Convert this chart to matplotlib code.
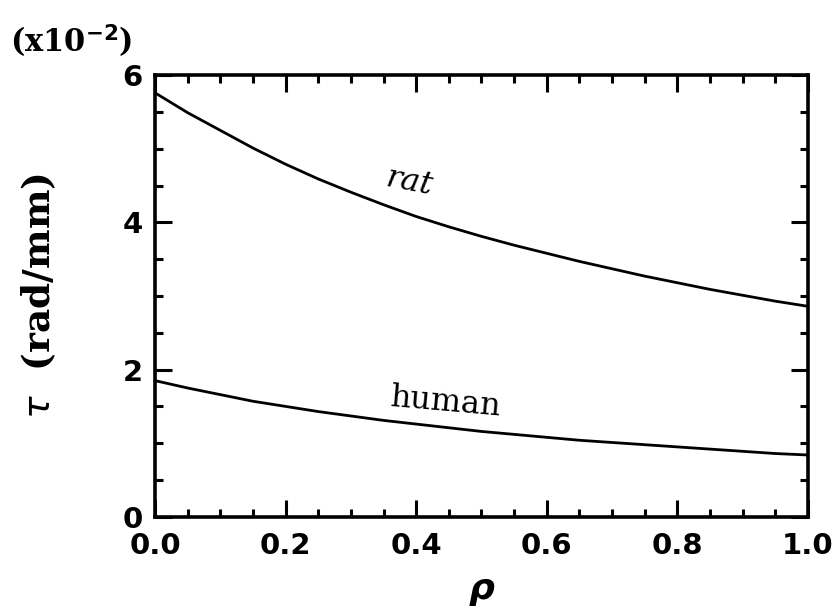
import numpy as np
import matplotlib
matplotlib.use('Agg')
import matplotlib.pyplot as plt
from matplotlib.ticker import MultipleLocator

# values (tau in units of 1e-2 rad/mm)
rho = [0.0, 0.05, 0.1, 0.15, 0.2, 0.25, 0.3, 0.35, 0.4, 0.45, 0.5,
       0.55, 0.6, 0.65, 0.7, 0.75, 0.8, 0.85, 0.9, 0.95, 1.0]
tau_rat = [5.76, 5.49, 5.25, 5.01, 4.79, 4.59, 4.41, 4.24, 4.08, 3.94, 3.81,
           3.69, 3.58, 3.47, 3.37, 3.27, 3.18, 3.09, 3.01, 2.93, 2.86]
tau_human = [1.85, 1.75, 1.66, 1.57, 1.50, 1.43, 1.37, 1.31, 1.26, 1.21, 1.16,
             1.12, 1.08, 1.04, 1.01, 0.98, 0.95, 0.92, 0.89, 0.86, 0.84]

fig = plt.figure(figsize=(8.38, 6.16), dpi=100)
ax = fig.add_axes([0.185, 0.161, 0.779, 0.717])

ax.plot(rho, tau_rat, color='black', lw=2)
ax.plot(rho, tau_human, color='black', lw=2)

ax.set_xlim(0, 1)
ax.set_ylim(0, 6)
ax.xaxis.set_minor_locator(MultipleLocator(0.05))
ax.yaxis.set_minor_locator(MultipleLocator(0.5))
ax.set_xticks([0, 0.2, 0.4, 0.6, 0.8, 1.0])
ax.set_xticklabels(['0.0', '0.2', '0.4', '0.6', '0.8', '1.0'])
ax.set_yticks([0, 2, 4, 6])
ax.set_yticklabels(['0', '2', '4', '6'])

ax.tick_params(which='both', direction='in', top=True, right=True, width=2.2)
ax.tick_params(which='major', length=12, labelsize=21)
ax.tick_params(axis='x', which='major', pad=11)
ax.tick_params(axis='y', which='major', pad=9)
ax.tick_params(which='minor', length=6)
for lab in ax.get_xticklabels() + ax.get_yticklabels():
    lab.set_fontweight('bold')
for s in ax.spines.values():
    s.set_linewidth(2.6)

ax.set_xlabel(r'$\boldsymbol{\rho}$', fontsize=26, labelpad=10)
ax.set_ylabel(r'$\tau$  (rad/mm)', fontsize=27, family='DejaVu Serif', weight='bold', labelpad=46)

ax.text(0.39, 4.55, 'rat', fontsize=23, family='DejaVu Serif', style='italic',
        rotation=-11, ha='center', va='center')
ax.text(0.445, 1.55, 'human', fontsize=23, family='DejaVu Serif',
        rotation=-5, ha='center', va='center')

fig.text(0.012, 0.915, r'(x10$^{\mathbf{-2}}$)', fontsize=22, family='DejaVu Serif', weight='bold')

fig.savefig('out.png', dpi=100)
